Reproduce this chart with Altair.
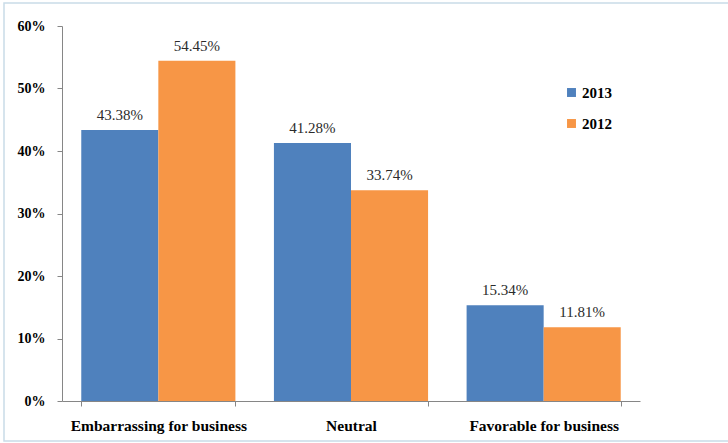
import altair as alt
import pandas as pd

categories = ["Embarrassing for business", "Neutral", "Favorable for business"]
years = ["2013", "2012"]
values_2013 = [0.4338, 0.4128, 0.1534]
values_2012 = [0.5445, 0.3374, 0.1181]
colors = ["#4F81BD", "#F79646"]

rows = []
for c, v in zip(categories, values_2013):
    rows.append({"cat": c, "year": "2013", "value": v})
for c, v in zip(categories, values_2012):
    rows.append({"cat": c, "year": "2012", "value": v})
df = pd.DataFrame(rows)

FONT = "Liberation Serif"

x = alt.X("cat:N", sort=categories, title=None,
          scale=alt.Scale(paddingInner=0.2, paddingOuter=0.1),
          axis=alt.Axis(labelAngle=0, labelFont=FONT, labelFontSize=15.5, labelFontWeight="bold",
                        labelColor="#000000", labelPadding=12, tickBand="extent", tickSize=5,
                        tickColor="#868686", domainColor="#868686", grid=False))
y = alt.Y("value:Q", title=None,
          scale=alt.Scale(domain=[0, 0.6]),
          axis=alt.Axis(format=".0%", values=[0, 0.1, 0.2, 0.3, 0.4, 0.5, 0.6],
                        labelFont=FONT, labelFontSize=14, labelFontWeight="bold",
                        labelColor="#000000", labelPadding=12, tickSize=5,
                        tickColor="#868686", domainColor="#868686", grid=False))
xoff = alt.XOffset("year:N", sort=years)
color = alt.Color("year:N", sort=years,
                  scale=alt.Scale(domain=years, range=colors),
                  legend=alt.Legend(title=None, orient="none", legendX=502, legendY=59,
                                    symbolType="square", symbolSize=80, symbolStrokeWidth=0,
                                    labelFont=FONT, labelFontSize=15, labelFontWeight="bold",
                                    labelColor="#000000", rowPadding=15, padding=0, labelOffset=3))

bars = alt.Chart(df).mark_bar().encode(x=x, xOffset=xoff, y=y, color=color)
labels = alt.Chart(df).mark_text(font=FONT, fontSize=15, color="#2b2b2b", dy=-10,
                                 baseline="alphabetic").encode(
    x=alt.X("cat:N", sort=categories), xOffset=xoff, y="value:Q",
    text=alt.Text("value:Q", format=".2%"))

frame_df = pd.DataFrame({"k": [0]})
frame = alt.Chart(frame_df).mark_rect(fill="transparent", stroke="#c9dbe8", strokeWidth=1.5).encode(
    x=alt.value(-58), x2=alt.value(668), y=alt.value(-23), y2=alt.value(415))

chart = alt.layer(frame, bars, labels).properties(
    width=578, height=375,
    autosize=alt.AutoSizeParams(type="none"),
    padding={"left": 62, "top": 26, "right": 88, "bottom": 42},
    background="white",
).configure_view(stroke=None)

chart.save("out.html", embed_options={"renderer": "svg", "actions": False})
